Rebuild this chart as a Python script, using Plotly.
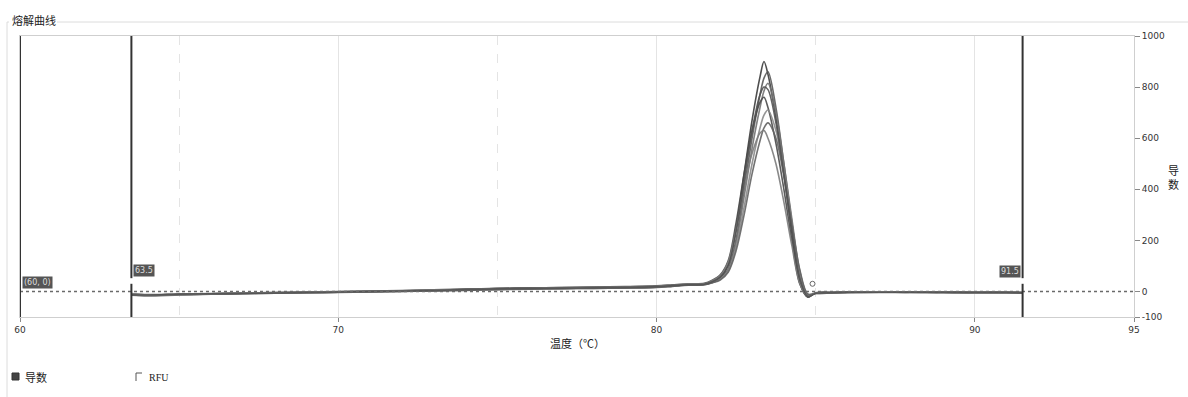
import plotly.graph_objects as go

# ---------------- data ----------------
temps = [63.5, 64, 65, 66, 67, 68, 69, 70, 71, 72, 73, 74, 75, 76, 77, 78, 79, 80, 80.5, 81,
         81.5, 81.75, 82, 82.25, 82.5, 82.75, 83, 83.25, 83.375, 83.5, 83.75, 84, 84.25, 84.5, 84.75, 85,
         85.5, 86, 87, 88, 89, 90, 91, 91.5]

curve1 = [-12, -15, -12, -10, -8, -6, -4, -3, -1, 2, 4, 6, 9, 11, 12, 13, 15, 18, 22, 26,
          28, 38, 55, 105, 250, 460, 670, 840, 900, 850, 680, 460, 230, 35, -22, -6,
          -5, -3, -2, -4, -3, -5, -4, -6]
curve2 = [-8, -12, -10, -8, -7, -5, -3, -1, 1, 3, 5, 8, 11, 13, 14, 16, 17, 20, 23, 25,
          26, 34, 48, 85, 205, 400, 600, 770, 835, 860, 720, 500, 270, 60, -18, -7,
          -4, -2, -3, -2, -4, -3, -5, -4]
curve3 = [-15, -18, -14, -11, -9, -7, -5, -3, -2, 0, 3, 5, 8, 10, 12, 13, 14, 17, 21, 27,
          30, 38, 50, 85, 190, 370, 560, 720, 785, 815, 700, 500, 285, 80, -15, -8,
          -6, -4, -3, -3, -5, -4, -3, -5]
curve4 = [-10, -14, -11, -9, -7, -4, -2, 0, 2, 4, 6, 9, 12, 14, 15, 17, 19, 22, 26, 30,
          32, 44, 65, 120, 270, 460, 630, 740, 760, 720, 580, 400, 200, 30, -22, -5,
          -3, -2, -1, -3, -2, -4, -3, -4]
curve5 = [-9, -13, -12, -10, -8, -6, -5, -3, -1, 1, 3, 6, 8, 10, 11, 12, 14, 17, 21, 25,
          28, 36, 48, 80, 175, 330, 500, 640, 690, 710, 630, 470, 270, 75, -12, -6,
          -5, -4, -2, -4, -3, -5, -6, -5]
curve6 = [-14, -16, -13, -10, -8, -7, -5, -4, -2, 0, 2, 4, 7, 9, 11, 12, 13, 16, 20, 24,
          26, 34, 45, 75, 160, 300, 460, 590, 640, 660, 600, 450, 265, 85, -10, -8,
          -6, -5, -3, -2, -4, -3, -4, -6]
curve7 = [-11, -15, -12, -9, -6, -4, -2, -1, 1, 3, 6, 8, 11, 13, 15, 16, 18, 21, 25, 29,
          30, 42, 62, 115, 245, 410, 540, 620, 630, 600, 500, 350, 180, 30, -20, -6,
          -4, -3, -2, -3, -2, -4, -5, -3]
curve8 = [-13, -14, -11, -9, -8, -6, -4, -2, 0, 2, 4, 7, 10, 12, 13, 14, 16, 19, 23, 26,
          28, 38, 56, 100, 235, 430, 630, 770, 800, 790, 660, 460, 240, 50, -20, -7,
          -5, -3, -4, -3, -3, -4, -4, -5]

curves = [curve1, curve2, curve3, curve4, curve5, curve6, curve7, curve8]
curve_colors = ['#3c3c3c', '#5a5a5a', '#737373', '#4a4a4a', '#8a8a8a', '#646464', '#7d7d7d', '#535353']

x_ticks = [60, 70, 80, 90, 95]
x_minor = [65, 75, 85]
y_ticks = [-100, 0, 200, 400, 600, 800, 1000]

marker_start = 60
marker_left = 63.5
marker_right = 91.5
point_x = [84.9]
point_y = [30]

# ---------------- layout helpers ----------------
W, H = 1188, 397
L, R, T, B = 20, 1134, 36, 317


def px(x):
    return (x - L) / (R - L)


def py(y):
    return (B - y) / (B - T)


fig = go.Figure()

for c, col in zip(curves, curve_colors):
    fig.add_trace(go.Scatter(x=temps, y=c, mode='lines', line=dict(color=col, width=1.6, shape='spline', smoothing=0.9),
                             opacity=0.9, hoverinfo='skip', showlegend=False))

fig.add_trace(go.Scatter(x=point_x, y=point_y, mode='markers',
                         marker=dict(symbol='circle-open', size=5, color='#666', line=dict(width=1)),
                         showlegend=False, hoverinfo='skip'))

shapes = []
# zero dotted line
shapes.append(dict(type='line', xref='x', yref='y', x0=60, x1=95, y0=0, y1=0,
                   line=dict(color='#6a6a6a', width=1.5, dash='dot'), layer='above'))
# marker lines
shapes.append(dict(type='line', xref='x', yref='y', x0=marker_start, x1=marker_start, y0=-115, y1=1000,
                   line=dict(color='#333', width=2)))
for xm in (marker_left, marker_right):
    shapes.append(dict(type='line', xref='x', yref='y', x0=xm, x1=xm, y0=52, y1=1000,
                       line=dict(color='#333', width=2)))
    shapes.append(dict(type='line', xref='x', yref='y', x0=xm, x1=xm, y0=-100, y1=30,
                       line=dict(color='#333', width=2)))
# group box frame
shapes.append(dict(type='line', xref='paper', yref='paper', x0=px(7), x1=px(7), y0=py(22), y1=py(397),
                   line=dict(color='#dcdcdc', width=1)))
shapes.append(dict(type='line', xref='paper', yref='paper', x0=px(7), x1=px(9), y0=py(22), y1=py(22),
                   line=dict(color='#dcdcdc', width=1)))
shapes.append(dict(type='line', xref='paper', yref='paper', x0=px(57), x1=px(1188), y0=py(22), y1=py(22),
                   line=dict(color='#dcdcdc', width=1)))
# legend checkboxes
shapes.append(dict(type='rect', xref='paper', yref='paper', x0=px(12), x1=px(19), y0=py(380), y1=py(373),
                   line=dict(color='#333', width=1), fillcolor='#444'))
shapes.append(dict(type='line', xref='paper', yref='paper', x0=px(136), x1=px(136), y0=py(381), y1=py(373),
                   line=dict(color='#555', width=1)))
shapes.append(dict(type='line', xref='paper', yref='paper', x0=px(136), x1=px(142), y0=py(373), y1=py(373),
                   line=dict(color='#555', width=1)))

annotations = [
    dict(text='熔解曲线', xref='paper', yref='paper', x=px(10), y=py(20), xanchor='left', yanchor='middle',
         showarrow=False, font=dict(size=11, color='#222', family='Noto Sans CJK SC')),
    dict(text='温度（℃）', xref='paper', yref='paper', x=px(577), y=py(343), xanchor='center', yanchor='middle',
         showarrow=False, font=dict(size=11, color='#222', family='Noto Sans CJK SC')),
    dict(text='导<br>数', xref='paper', yref='paper', x=px(1173), y=py(177), xanchor='center', yanchor='middle',
         showarrow=False, font=dict(size=11, color='#222', family='Noto Sans CJK SC')),
    dict(text='导数', xref='paper', yref='paper', x=px(23), y=py(377), xanchor='left', yanchor='middle',
         showarrow=False, font=dict(size=11, color='#222', family='Noto Sans CJK SC')),
    dict(text='RFU', xref='paper', yref='paper', x=px(147), y=py(377), xanchor='left', yanchor='middle',
         showarrow=False, font=dict(size=10, color='#222', family='Liberation Serif')),
    dict(text='(60, 0)', xref='x', yref='y', x=marker_start, y=0, xanchor='left', yanchor='bottom',
         xshift=2, yshift=2, showarrow=False, bgcolor='#555', borderpad=1,
         font=dict(size=8, color='#ddd', family='DejaVu Sans')),
    dict(text=str(marker_left), xref='x', yref='y', x=marker_left, y=0, xanchor='left', yanchor='bottom',
         xshift=2, yshift=14, showarrow=False, bgcolor='#555', borderpad=1,
         font=dict(size=8, color='#ddd', family='DejaVu Sans')),
    dict(text=str(marker_right), xref='x', yref='y', x=marker_right, y=0, xanchor='right', yanchor='bottom',
         xshift=-2, yshift=13, showarrow=False, bgcolor='#555', borderpad=1,
         font=dict(size=8, color='#ddd', family='DejaVu Sans')),
]

fig.update_layout(
    width=W, height=H,
    margin=dict(l=L, r=W - R, t=T, b=H - B, pad=0),
    paper_bgcolor='white', plot_bgcolor='white',
    shapes=shapes, annotations=annotations, showlegend=False,
    font=dict(family='DejaVu Sans', size=9, color='#333'),
)
fig.update_xaxes(
    range=[60, 95], tickmode='array', tickvals=x_ticks, ticktext=[str(v) for v in x_ticks],
    showgrid=True, gridcolor='#e4e4e4', gridwidth=1,
    minor=dict(tickmode='array', tickvals=x_minor, showgrid=True, griddash='dash', gridcolor='#e4e4e4', ticks=''),
    showline=True, linecolor='#cfcfcf', linewidth=1, mirror=True,
    ticks='outside', ticklen=4, tickcolor='#888', tickfont=dict(size=9, color='#333'),
    zeroline=False,
)
fig.update_yaxes(
    range=[-100, 1000], side='right', tickmode='array', tickvals=y_ticks, ticktext=[str(v) for v in y_ticks],
    showgrid=False, showline=True, linecolor='#cfcfcf', linewidth=1, mirror=True,
    ticks='outside', ticklen=5, tickcolor='#888', tickfont=dict(size=9, color='#333'),
    zeroline=False,
)

fig.write_html('out.html', config={'displayModeBar': False},
               post_script="document.body.style.margin='0';document.body.style.overflow='hidden';")
